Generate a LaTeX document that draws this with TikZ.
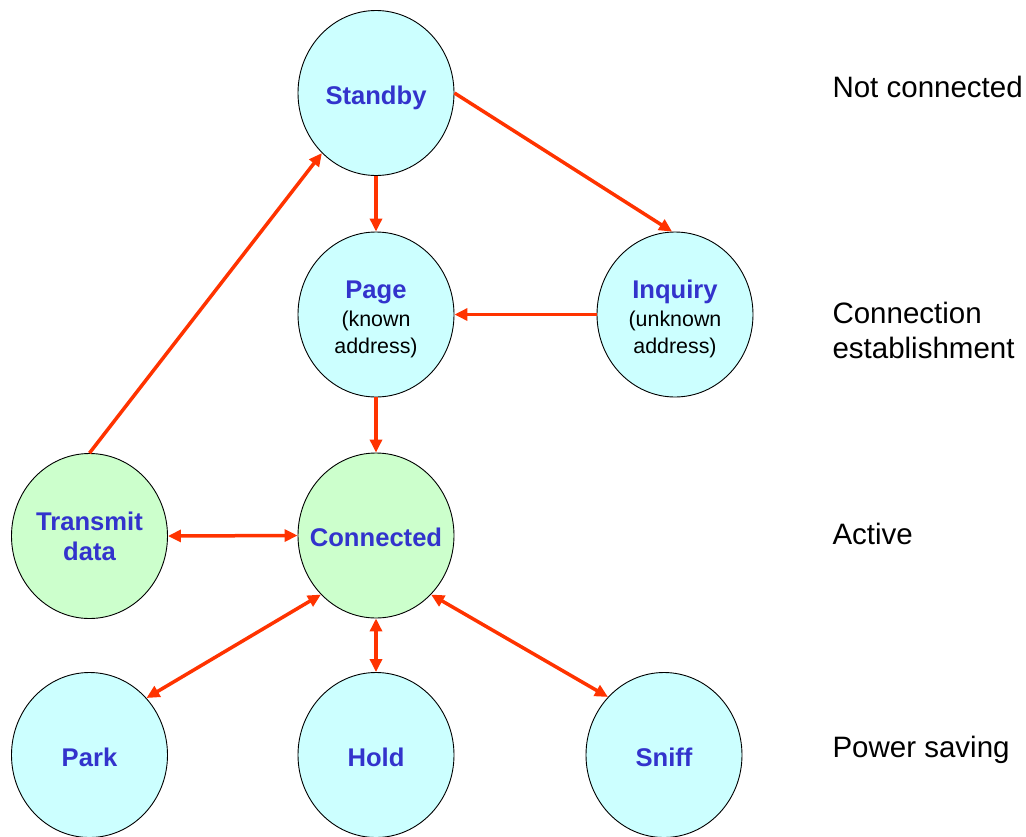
\documentclass[tikz,border=0pt]{standalone}
\usepackage{fontspec}
\setmainfont{Liberation Sans}
\usetikzlibrary{shapes.geometric,arrows.meta}

\definecolor{statecyan}{HTML}{CCFFFF}
\definecolor{stategreen}{HTML}{CCFFCC}
\definecolor{titleblue}{HTML}{3333CC}
\definecolor{linkred}{HTML}{FF3300}

% plain black note under a state name
\newcommand{\notetxt}{\fontsize{21.4}{27}\selectfont\mdseries\color{black}}
% taller first line, lowers a three-line label inside its ellipse
\newcommand{\toprise}{\rule{0pt}{28pt}}

\tikzset{
  state/.style={ellipse, draw=black, line width=0.9pt, fill=statecyan,
    minimum width=156pt, minimum height=165pt,
    inner xsep=-25pt, inner ysep=0pt,
    align=center, text=titleblue,
    font=\fontsize{25.6}{30}\selectfont\bfseries},
  oneline/.style={text height=25pt, text depth=3pt},
  activestate/.style={state, fill=stategreen},
  link/.style={draw=linkred, line width=3.5pt,
    -{Triangle[length=13pt,width=12pt]}},
  twolink/.style={link, {Triangle[length=13pt,width=12pt]}-{Triangle[length=13pt,width=12pt]}},
  layer/.style={anchor=west, align=left,
    font=\fontsize{29.5}{35}\selectfont}
}

\begin{document}
\begin{tikzpicture}[x=1pt, y=-1pt]
  \useasboundingbox (0,0) rectangle (1026,836);

  % states
  \node[state, oneline] (standby) at (376,93) {Standby};
  \node[state] (page) at (376,314.5)
    {\toprise Page\\[-2pt]{\notetxt (known}\\[-3pt]{\notetxt address)}};
  \node[state] (inquiry) at (675,314.5)
    {\toprise Inquiry\\[-2pt]{\notetxt (unknown}\\[-3pt]{\notetxt address)}};
  \node[activestate] (transmit) at (89.5,536) {Transmit\\data};
  \node[activestate, oneline] (connected) at (376,535.5) {Connected};
  \node[state, oneline] (park) at (89.5,755) {Park};
  \node[state, oneline] (hold) at (376,755) {Hold};
  \node[state, oneline] (sniff) at (664,755) {Sniff};

  % transitions
  \draw[link] (standby.south) -- (page.north);
  \draw[link] (standby.east) -- (inquiry.92);
  \draw[link] (inquiry.west) -- (page.east);
  \draw[link] (page.south) -- (connected.north);
  \draw[link] (transmit.north) -- (standby.228);
  \draw[twolink] (transmit.east) -- (connected.west);
  \draw[twolink] (connected.227) -- (park.45);
  \draw[twolink] (connected.south) -- (hold.north);
  \draw[twolink] (connected.313) -- (sniff.134);

  % layer captions
  \node[layer] (l1) at (829,87) {Not connected};
  \node[layer] (l2) at (829,330.5) {Connection\\establishment};
  \node[layer] (l3) at (829,534) {Active};
  \node[layer] (l4) at (829,750) {Power saving};
\end{tikzpicture}
\end{document}
